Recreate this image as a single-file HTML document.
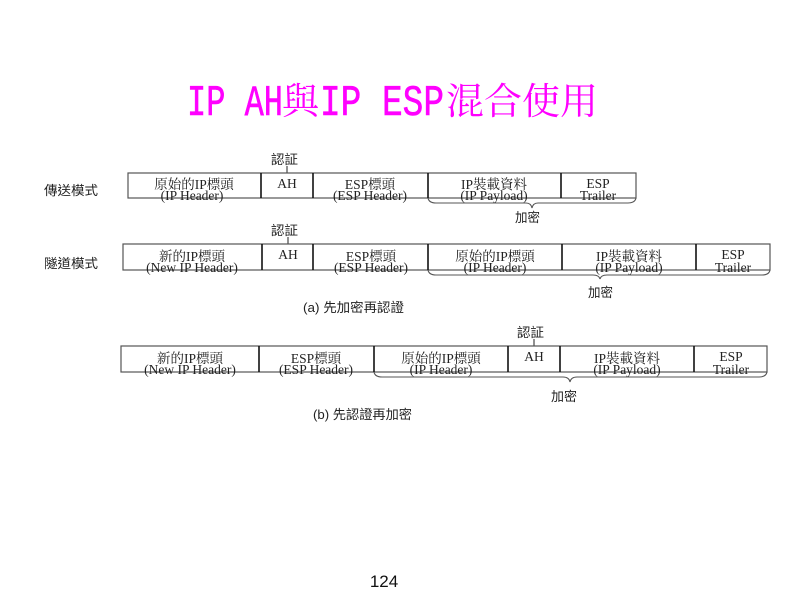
<!DOCTYPE html>
<html><head><meta charset="utf-8"><style>
html,body{margin:0;padding:0;background:#fff;}
svg{display:block;}
.t{font-family:"Liberation Serif","Noto Serif CJK SC",serif;font-size:13.5px;fill:#222;text-anchor:middle;}
.s{font-family:"Liberation Sans","Noto Sans CJK TC",sans-serif;font-size:13px;fill:#222;}
.box{fill:none;stroke:#555;stroke-width:1.2;}
.dv{stroke:#111;stroke-width:1.6;}
.br{fill:none;stroke:#555;stroke-width:1.1;}
</style></head><body>
<svg width="800" height="600" viewBox="0 0 800 600" xmlns="http://www.w3.org/2000/svg">
<!-- Title -->
<g fill="#ff00ff">
<text x="187" y="115" font-family="Liberation Mono, monospace" font-size="44" stroke="#ff00ff" stroke-width="0.6" textLength="96" lengthAdjust="spacingAndGlyphs">IP AH</text>
<text x="282" y="114" font-family="Noto Serif CJK SC, serif" font-size="37">與</text>
<text x="320" y="115" font-family="Liberation Mono, monospace" font-size="44" stroke="#ff00ff" stroke-width="0.6" textLength="124" lengthAdjust="spacingAndGlyphs">IP ESP</text>
<text x="446" y="114" font-family="Noto Serif CJK SC, serif" font-size="37" textLength="152" lengthAdjust="spacingAndGlyphs">混合使用</text>
</g>

<!-- Row 1 -->
<text class="s" x="44" y="195" textLength="54" lengthAdjust="spacingAndGlyphs">傳送模式</text>
<text class="s" x="271" y="164" textLength="27" lengthAdjust="spacingAndGlyphs">認証</text>
<line x1="287" y1="166" x2="287" y2="173" stroke="#222" stroke-width="1"/>
<rect class="box" x="128" y="173" width="508" height="25"/>
<line class="dv" x1="261" y1="173" x2="261" y2="198"/>
<line class="dv" x1="313" y1="173" x2="313" y2="198"/>
<line class="dv" x1="428" y1="173" x2="428" y2="198"/>
<line class="dv" x1="561" y1="173" x2="561" y2="198"/>
<text class="t" x="194" y="189">原始的IP標頭</text>
<text class="t" x="192" y="200">(IP Header)</text>
<text class="t" x="287" y="188">AH</text>
<text class="t" x="370" y="189">ESP標頭</text>
<text class="t" x="370" y="200">(ESP Header)</text>
<text class="t" x="494" y="189">IP裝載資料</text>
<text class="t" x="494" y="200">(IP Payload)</text>
<text class="t" x="598" y="188">ESP</text>
<text class="t" x="598" y="200">Trailer</text>
<path class="br" d="M428,198 Q429,203 436,203 L526,203 Q531,203 532,208 Q533,203 538,203 L628,203 Q635,203 636,198"/>
<text class="s" x="515" y="222" textLength="25" lengthAdjust="spacingAndGlyphs">加密</text>

<!-- Row 2 -->
<text class="s" x="44" y="268" textLength="54" lengthAdjust="spacingAndGlyphs">隧道模式</text>
<text class="s" x="271" y="235" textLength="27" lengthAdjust="spacingAndGlyphs">認証</text>
<line x1="288" y1="237" x2="288" y2="244" stroke="#222" stroke-width="1"/>
<rect class="box" x="123" y="244" width="647" height="26"/>
<line class="dv" x1="262" y1="244" x2="262" y2="270"/>
<line class="dv" x1="313" y1="244" x2="313" y2="270"/>
<line class="dv" x1="428" y1="244" x2="428" y2="270"/>
<line class="dv" x1="562" y1="244" x2="562" y2="270"/>
<line class="dv" x1="696" y1="244" x2="696" y2="270"/>
<text class="t" x="192" y="261">新的IP標頭</text>
<text class="t" x="192" y="272">(New IP Header)</text>
<text class="t" x="288" y="259">AH</text>
<text class="t" x="371" y="261">ESP標頭</text>
<text class="t" x="371" y="272">(ESP Header)</text>
<text class="t" x="495" y="261">原始的IP標頭</text>
<text class="t" x="495" y="272">(IP Header)</text>
<text class="t" x="629" y="261">IP裝載資料</text>
<text class="t" x="629" y="272">(IP Payload)</text>
<text class="t" x="733" y="259">ESP</text>
<text class="t" x="733" y="272">Trailer</text>
<path class="br" d="M428,270 Q429,275 436,275 L593,275 Q599,275 600,279 Q601,275 607,275 L762,275 Q769,275 770,270"/>
<text class="s" x="588" y="297" textLength="25" lengthAdjust="spacingAndGlyphs">加密</text>
<text class="s" x="303" y="312" textLength="101" lengthAdjust="spacingAndGlyphs">(a) 先加密再認證</text>

<!-- Row 3 -->
<text class="s" x="517" y="337" textLength="27" lengthAdjust="spacingAndGlyphs">認証</text>
<line x1="534" y1="339" x2="534" y2="346" stroke="#222" stroke-width="1"/>
<rect class="box" x="121" y="346" width="646" height="26"/>
<line class="dv" x1="259" y1="346" x2="259" y2="372"/>
<line class="dv" x1="374" y1="346" x2="374" y2="372"/>
<line class="dv" x1="508" y1="346" x2="508" y2="372"/>
<line class="dv" x1="560" y1="346" x2="560" y2="372"/>
<line class="dv" x1="694" y1="346" x2="694" y2="372"/>
<text class="t" x="190" y="363">新的IP標頭</text>
<text class="t" x="190" y="374">(New IP Header)</text>
<text class="t" x="316" y="363">ESP標頭</text>
<text class="t" x="316" y="374">(ESP Header)</text>
<text class="t" x="441" y="363">原始的IP標頭</text>
<text class="t" x="441" y="374">(IP Header)</text>
<text class="t" x="534" y="361">AH</text>
<text class="t" x="627" y="363">IP裝載資料</text>
<text class="t" x="627" y="374">(IP Payload)</text>
<text class="t" x="731" y="361">ESP</text>
<text class="t" x="731" y="374">Trailer</text>
<path class="br" d="M374,372 Q375,377 382,377 L563,377 Q569,377 570,382 Q571,377 577,377 L759,377 Q766,377 767,372"/>
<text class="s" x="551" y="401" textLength="26" lengthAdjust="spacingAndGlyphs">加密</text>
<text class="s" x="313" y="419" textLength="99" lengthAdjust="spacingAndGlyphs">(b) 先認證再加密</text>

<!-- page number -->
<text x="384" y="587" font-family="Liberation Sans, sans-serif" font-size="17" fill="#111" text-anchor="middle">124</text>
</svg>
</body></html>
